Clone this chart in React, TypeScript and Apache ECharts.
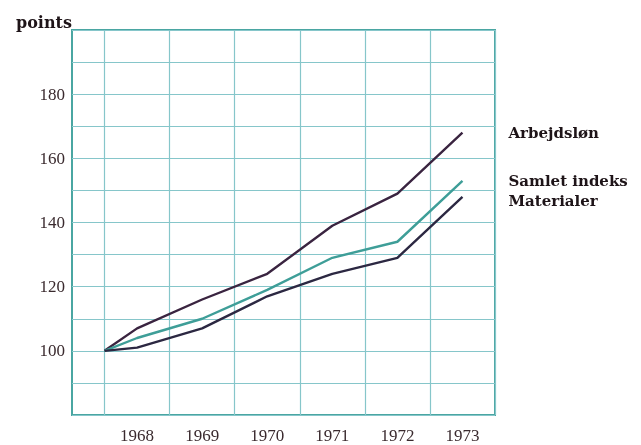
import React, { useEffect, useRef } from "react";
import * as echarts from "echarts";

// x positions: 1967.5 = index base (start), then mid-year values
const xPoints = [1967.5, 1968, 1969, 1970, 1971, 1972, 1973];
const yearLabels = [1968, 1969, 1970, 1971, 1972, 1973];
const arbejdslon = [100, 107, 116, 124, 139, 149, 168];
const samletIndeks = [100, 104, 110, 119, 129, 134, 153];
const materialer = [100, 101, 107, 117, 124, 129, 148];
const yTickLabels = [100, 120, 140, 160, 180];

const pair = (vals: number[]) => xPoints.map((x, i) => [x, vals[i]]);

export default function App() {
  const ref = useRef<HTMLDivElement>(null);
  useEffect(() => {
    if (!ref.current) return;
    const chart = echarts.init(ref.current, undefined, { renderer: "svg" });
    const labelFont = "'Liberation Serif', 'DejaVu Serif', serif";
    const boldFont = "'DejaVu Serif', 'Liberation Serif', serif";
    const mkSeries = (name: string, vals: number[], color: string, offset: number[]) => ({
      name,
      type: "line",
      data: pair(vals),
      symbol: "none",
      lineStyle: { color, width: 2.4 },
      endLabel: {
        show: true,
        formatter: name,
        distance: 46,
        offset,
        color: "#1e1418",
        fontFamily: boldFont,
        fontWeight: "bold",
        fontSize: 15,
        lineHeight: 16,
      },
    });
    chart.setOption({
      animation: false,
      title: {
        text: "points",
        left: 11,
        top: 9,
        textStyle: { fontFamily: boldFont, fontWeight: "bold", fontSize: 16, color: "#1e1418" },
      },
      grid: {
        left: 72,
        top: 30,
        right: 146,
        bottom: 30,
        show: true,
        borderColor: "#4aa6a2",
        borderWidth: 2,
        backgroundColor: "transparent",
      },
      xAxis: {
        type: "value",
        min: 1967,
        max: 1973.5,
        interval: 0.5,
        axisLine: { show: false },
        axisTick: { show: false },
        splitLine: {
          show: true,
          lineStyle: { color: ["rgba(0,0,0,0)", "#86c6ca"], width: 1.2 },
        },
        axisLabel: {
          margin: 12,
          fontFamily: labelFont,
          fontSize: 17,
          color: "#3a2a2e",
          formatter: (v: number) => (yearLabels.includes(v) ? String(v) : ""),
        },
      },
      yAxis: {
        type: "value",
        min: 80,
        max: 200,
        interval: 10,
        axisLine: { show: false },
        axisTick: { show: false },
        splitLine: { show: true, lineStyle: { color: "#86c6ca", width: 1.2 } },
        axisLabel: {
          margin: 7,
          padding: [0, 0, 5, 0],
          fontFamily: labelFont,
          fontSize: 17,
          color: "#3a2a2e",
          formatter: (v: number) => (yTickLabels.includes(v) ? String(v) : ""),
        },
      },
      series: [
        mkSeries("Arbejdsløn", arbejdslon, "#3a2440", [0, 0]),
        mkSeries("Samlet indeks", samletIndeks, "#3e9e98", [0, 0]),
        mkSeries("Materialer", materialer, "#2c2842", [0, 4]),
      ],
    });
    return () => chart.dispose();
  }, []);
  return (
    <div
      ref={ref}
      style={{ position: "fixed", left: 0, top: 0, width: 641, height: 445 }}
    />
  );
}
